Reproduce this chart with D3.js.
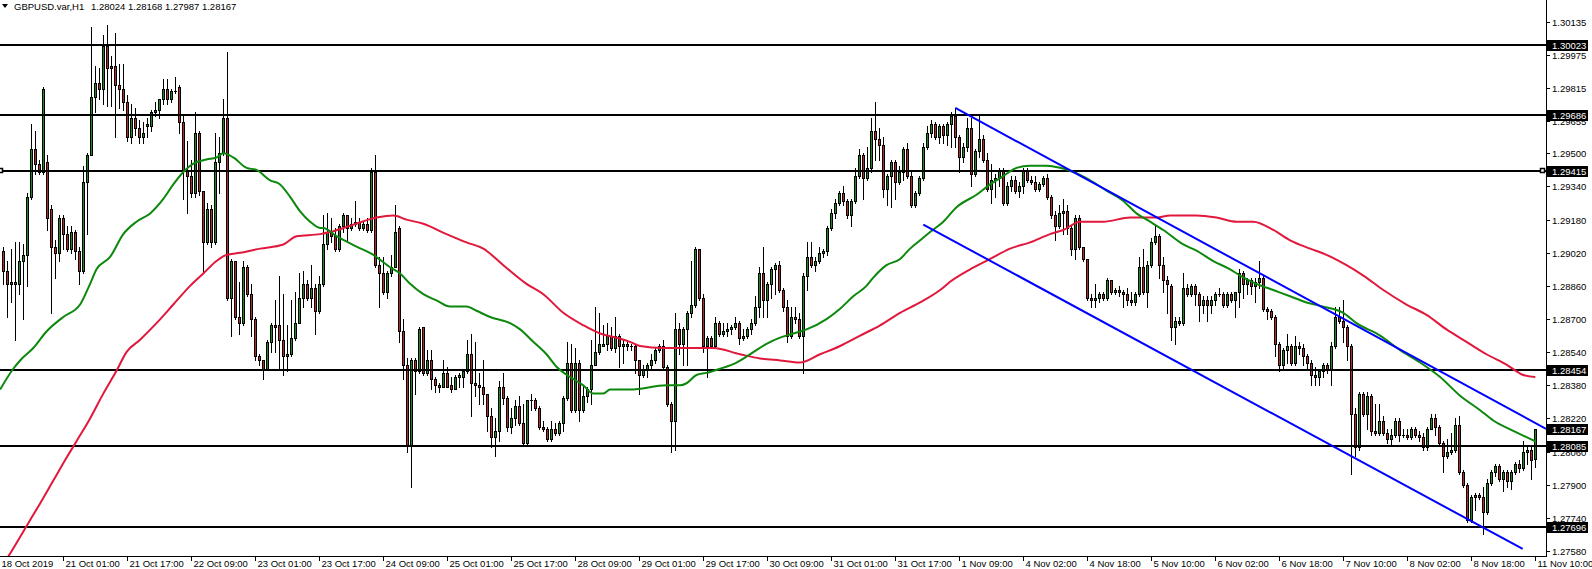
<!DOCTYPE html>
<html><head><meta charset="utf-8">
<script src="https://cdn.jsdelivr.net/npm/d3@7/dist/d3.min.js"></script>
<style>
html,body{margin:0;padding:0;background:#fff;overflow:hidden;}
svg{display:block;font-family:"Liberation Sans",Arial,sans-serif;}
</style></head><body>
<svg id="chart" width="1592" height="569"></svg>
<script>
// ---------------- DATA ----------------
const title = "GBPUSD.var,H1";
const titleValues = "1.28024 1.28168 1.27987 1.28167";

const opens = [
1.2903,1.2893,1.2887,1.2888,1.2887,1.2898,1.2901,1.2929,1.2952,1.2945,1.2941,1.2946,1.2923,1.2905,1.2902,1.2919,1.2911,1.2904,1.2912,1.2903,
1.2893,1.2936,1.2949,1.2977,1.2984,1.2981,1.3002,1.2992,1.2992,1.2983,1.2981,1.2975,1.2958,1.2967,1.2962,1.2958,1.2963,1.2963,1.2970,1.2971,
1.2976,1.2981,1.2976,1.2980,1.2982,1.2965,1.2942,1.2939,1.2931,1.2960,1.2932,1.2907,1.2923,1.2907,1.2946,1.2950,1.2967,1.2880,1.2898,1.2871,
1.2868,1.2895,1.2882,1.2870,1.2852,1.2850,1.2846,1.2859,1.2867,1.2867,1.2860,1.2852,1.2853,1.2861,1.2868,1.2880,1.2887,1.2880,1.2885,1.2874,
1.2887,1.2906,1.2912,1.2910,1.2904,1.2915,1.2920,1.2914,1.2916,1.2917,1.2914,1.2916,1.2913,1.2941,1.2896,1.2892,1.2883,1.2892,1.2895,1.2914,
1.2864,1.2848,1.2809,1.2850,1.2845,1.2866,1.2844,1.2850,1.2841,1.2838,1.2837,1.2844,1.2838,1.2836,1.2842,1.2842,1.2845,1.2853,1.2839,1.2838,
1.2837,1.2834,1.2823,1.2813,1.2816,1.2837,1.2832,1.2818,1.2822,1.2828,1.2820,1.2810,1.2831,1.2831,1.2827,1.2818,1.2817,1.2812,1.2817,1.2815,
1.2820,1.2832,1.2849,1.2826,1.2849,1.2826,1.2833,1.2836,1.2848,1.2854,1.2857,1.2858,1.2862,1.2856,1.2862,1.2857,1.2857,1.2857,1.2857,1.2850,
1.2843,1.2846,1.2848,1.2850,1.2855,1.2857,1.2847,1.2829,1.2821,1.2865,1.2858,1.2865,1.2873,1.2877,1.2904,1.2880,1.2857,1.2861,1.2857,1.2868,
1.2863,1.2864,1.2865,1.2866,1.2868,1.2861,1.2862,1.2865,1.2868,1.2876,1.2892,1.2879,1.2887,1.2894,1.2896,1.2884,1.2876,1.2862,1.2871,1.2870,
1.2862,1.2891,1.2900,1.2896,1.2898,1.2902,1.2903,1.2914,1.2921,1.2926,1.2931,1.2927,1.2920,1.2927,1.2939,1.2949,1.2938,1.2943,1.2961,1.2957,
1.2954,1.2933,1.2939,1.2946,1.2936,1.2941,1.2952,1.2939,1.2925,1.2931,1.2938,1.2953,1.2960,1.2964,1.2958,1.2963,1.2959,1.2964,1.2968,1.2958,
1.2948,1.2953,1.2962,1.2940,1.2951,1.2957,1.2947,1.2933,1.2937,1.2938,1.2942,1.2926,1.2934,1.2937,1.2932,1.2934,1.2942,1.2937,1.2936,1.2933,
1.2935,1.2938,1.2929,1.2920,1.2915,1.2921,1.2922,1.2914,1.2904,1.2919,1.2905,1.2899,1.2880,1.2879,1.2880,1.2882,1.2880,1.2889,1.2883,1.2884,
1.2883,1.2882,1.2879,1.2878,1.2882,1.2895,1.2883,1.2896,1.2907,1.2910,1.2896,1.2889,1.2886,1.2866,1.2869,1.2868,1.2885,1.2882,1.2886,1.2882,
1.2877,1.2879,1.2877,1.2879,1.2882,1.2882,1.2877,1.2882,1.2879,1.2883,1.2892,1.2887,1.2889,1.2886,1.2888,1.2890,1.2875,1.2874,1.2871,1.2858,
1.2848,1.2855,1.2857,1.2849,1.2857,1.2856,1.2852,1.2849,1.2843,1.2842,1.2845,1.2848,1.2846,1.2857,1.2871,1.2869,1.2866,1.2857,1.2824,1.2808,
1.2834,1.2824,1.2833,1.2816,1.2815,1.2821,1.2815,1.2812,1.2814,1.2821,1.2814,1.2814,1.2813,1.2817,1.2814,1.2813,1.2808,1.2817,1.2822,1.2818,
1.2810,1.2804,1.2806,1.2807,1.2819,1.2796,1.2790,1.2773,1.2784,1.2785,1.2784,1.2777,1.2791,1.2796,1.2799,1.2793,1.2796,1.2792,1.2796,1.2800,
1.2798,1.2806,1.2807,1.28024];

const highs = [
1.2905,1.2898,1.2904,1.2907,1.2907,1.2906,1.2931,1.2964,1.2961,1.2947,1.2982,1.2949,1.2925,1.2908,1.2920,1.2920,1.2915,1.2915,1.2913,1.2905,
1.2944,1.2950,1.3011,1.2992,1.2991,1.3007,1.3012,1.2997,1.3008,1.2993,1.2993,1.2978,1.2974,1.2972,1.2966,1.2965,1.2967,1.2971,1.2975,1.2976,
1.2986,1.2986,1.2981,1.2987,1.2983,1.2969,1.2956,1.2947,1.2970,1.2961,1.2932,1.2926,1.2925,1.2960,1.2958,1.2976,1.2999,1.2899,1.2898,1.2888,
1.2898,1.2896,1.2887,1.2871,1.2853,1.2850,1.2860,1.2868,1.2879,1.2891,1.2882,1.2867,1.2879,1.2883,1.2892,1.2893,1.2889,1.2896,1.2887,1.2891,
1.2920,1.2921,1.2919,1.2914,1.2916,1.2921,1.2920,1.2919,1.2927,1.2919,1.2917,1.2919,1.2943,1.2949,1.2900,1.2900,1.2893,1.2901,1.2925,1.2915,
1.2870,1.2851,1.2851,1.2851,1.2866,1.2866,1.2855,1.2855,1.2842,1.2839,1.2850,1.2847,1.2842,1.2843,1.2844,1.2846,1.2860,1.2863,1.2859,1.2844,
1.2850,1.2834,1.2827,1.2822,1.2840,1.2844,1.2833,1.2827,1.2831,1.2833,1.2829,1.2831,1.2834,1.2832,1.2828,1.2821,1.2818,1.2821,1.2820,1.2821,
1.2833,1.2859,1.2858,1.2856,1.2850,1.2838,1.2837,1.2860,1.2876,1.2873,1.2867,1.2868,1.2866,1.2871,1.2863,1.2860,1.2859,1.2858,1.2858,1.2850,
1.2848,1.2849,1.2853,1.2856,1.2858,1.2860,1.2848,1.2830,1.2873,1.2868,1.2866,1.2874,1.2898,1.2905,1.2904,1.2882,1.2862,1.2862,1.2871,1.2869,
1.2868,1.2868,1.2867,1.2871,1.2869,1.2865,1.2866,1.2870,1.2881,1.2895,1.2905,1.2888,1.2895,1.2897,1.2898,1.2885,1.2879,1.2876,1.2876,1.2873,
1.2892,1.2907,1.2907,1.2900,1.2905,1.2904,1.2915,1.2923,1.2928,1.2932,1.2934,1.2928,1.2928,1.2943,1.2952,1.2950,1.2953,1.2967,1.2975,1.2962,
1.2958,1.2940,1.2947,1.2947,1.2944,1.2953,1.2955,1.2941,1.2932,1.2939,1.2955,1.2963,1.2966,1.2965,1.2964,1.2964,1.2965,1.2970,1.2972,1.2959,
1.2955,1.2967,1.2967,1.2952,1.2969,1.2959,1.2950,1.2945,1.2940,1.2943,1.2943,1.2936,1.2939,1.2939,1.2936,1.2943,1.2943,1.2939,1.2939,1.2936,
1.2939,1.2940,1.2930,1.2922,1.2925,1.2928,1.2925,1.2915,1.2920,1.2920,1.2905,1.2899,1.2882,1.2887,1.2883,1.2883,1.2890,1.2889,1.2885,1.2886,
1.2884,1.2885,1.2883,1.2883,1.2900,1.2904,1.2898,1.2909,1.2915,1.2911,1.2900,1.2891,1.2887,1.2871,1.2871,1.2892,1.2887,1.2887,1.2887,1.2883,
1.2881,1.2881,1.2881,1.2883,1.2885,1.2883,1.2883,1.2883,1.2883,1.2894,1.2893,1.2890,1.2890,1.2890,1.2898,1.2891,1.2876,1.2875,1.2872,1.2859,
1.2856,1.2863,1.2858,1.2862,1.2859,1.2858,1.2853,1.2850,1.2847,1.2846,1.2849,1.2849,1.2859,1.2876,1.2876,1.2879,1.2867,1.2858,1.2827,1.2835,
1.2835,1.2835,1.2834,1.2829,1.2829,1.2823,1.2817,1.2817,1.2822,1.2822,1.2817,1.2817,1.2818,1.2818,1.2816,1.2815,1.2818,1.2824,1.2824,1.2819,
1.2811,1.2812,1.2815,1.2822,1.2823,1.2797,1.2791,1.2785,1.2786,1.2786,1.2789,1.2793,1.2797,1.2800,1.2800,1.2797,1.2797,1.2797,1.2801,1.2802,
1.2811,1.2808,1.2809,1.28168];

const lows = [
1.2887,1.2871,1.2878,1.2860,1.2882,1.2870,1.2886,1.2928,1.2940,1.2940,1.2940,1.2913,1.2873,1.2890,1.2898,1.2904,1.2903,1.2902,1.2899,1.2887,
1.2892,1.2911,1.2949,1.2970,1.2976,1.2974,1.2973,1.2973,1.2958,1.2972,1.2971,1.2956,1.2955,1.2959,1.2955,1.2955,1.2958,1.2961,1.2968,1.2967,
1.2974,1.2974,1.2975,1.2979,1.2960,1.2928,1.2921,1.2929,1.2929,1.2930,1.2892,1.2906,1.2905,1.2906,1.2931,1.2949,1.2879,1.2862,1.2870,1.2863,
1.2867,1.2881,1.2862,1.2850,1.2848,1.2841,1.2846,1.2854,1.2854,1.2846,1.2843,1.2845,1.2852,1.2860,1.2868,1.2876,1.2879,1.2876,1.2863,1.2873,
1.2886,1.2904,1.2907,1.2903,1.2903,1.2912,1.2908,1.2913,1.2915,1.2913,1.2913,1.2912,1.2912,1.2895,1.2876,1.2882,1.2880,1.2891,1.2895,1.2859,
1.2841,1.2806,1.2789,1.2834,1.2844,1.2843,1.2843,1.2836,1.2835,1.2835,1.2837,1.2837,1.2835,1.2836,1.2837,1.2837,1.2844,1.2823,1.2833,1.2829,
1.2829,1.2816,1.2808,1.2804,1.2811,1.2829,1.2816,1.2815,1.2819,1.2819,1.2809,1.2809,1.2826,1.2826,1.2817,1.2816,1.2811,1.2811,1.2814,1.2814,
1.2816,1.2831,1.2825,1.2825,1.2821,1.2825,1.2830,1.2829,1.2848,1.2853,1.2857,1.2855,1.2855,1.2854,1.2847,1.2849,1.2855,1.2855,1.2844,1.2834,
1.2842,1.2842,1.2846,1.2849,1.2854,1.2846,1.2828,1.2806,1.2807,1.2853,1.2848,1.2848,1.2871,1.2876,1.2879,1.2854,1.2842,1.2856,1.2856,1.2862,
1.2862,1.2862,1.2863,1.2865,1.2858,1.2860,1.2861,1.2863,1.2867,1.2871,1.2871,1.2871,1.2880,1.2882,1.2883,1.2874,1.2859,1.2861,1.2868,1.2861,
1.2844,1.2884,1.2895,1.2893,1.2897,1.2900,1.2901,1.2913,1.2919,1.2925,1.2925,1.2919,1.2915,1.2926,1.2938,1.2928,1.2937,1.2941,1.2947,1.2947,
1.2929,1.2925,1.2924,1.2928,1.2935,1.2937,1.2938,1.2924,1.2924,1.2930,1.2937,1.2952,1.2958,1.2957,1.2955,1.2955,1.2954,1.2953,1.2953,1.2941,
1.2946,1.2951,1.2934,1.2939,1.2948,1.2946,1.2932,1.2926,1.2929,1.2934,1.2925,1.2925,1.2932,1.2931,1.2929,1.2931,1.2936,1.2935,1.2932,1.2932,
1.2934,1.2928,1.2919,1.2908,1.2914,1.2911,1.2911,1.2901,1.2899,1.2904,1.2898,1.2879,1.2876,1.2876,1.2878,1.2879,1.2879,1.2882,1.2882,1.2881,
1.2876,1.2877,1.2877,1.2877,1.2881,1.2882,1.2876,1.2895,1.2906,1.2890,1.2883,1.2873,1.2860,1.2858,1.2867,1.2867,1.2881,1.2881,1.2877,1.2869,
1.2873,1.2869,1.2873,1.2877,1.2881,1.2876,1.2876,1.2878,1.2871,1.2876,1.2880,1.2882,1.2882,1.2878,1.2885,1.2874,1.2870,1.2870,1.2852,1.2845,
1.2846,1.2849,1.2848,1.2848,1.2853,1.2848,1.2846,1.2838,1.2838,1.2838,1.2842,1.2844,1.2838,1.2856,1.2868,1.2859,1.2850,1.2795,1.2804,1.2807,
1.2823,1.2817,1.2814,1.2814,1.2814,1.2814,1.2810,1.2809,1.2813,1.2811,1.2813,1.2812,1.2812,1.2813,1.2811,1.2807,1.2807,1.2817,1.2814,1.2809,
1.2796,1.2803,1.2805,1.2806,1.2795,1.2789,1.2772,1.2772,1.2778,1.2783,1.2766,1.2776,1.2790,1.2794,1.2792,1.2787,1.2789,1.2788,1.2795,1.2796,
1.2797,1.2800,1.2793,1.27987];

const closes = [
1.2893,1.2887,1.2888,1.2887,1.2898,1.2901,1.2929,1.2952,1.2945,1.2941,1.2981,1.2919,1.2905,1.2902,1.2919,1.2911,1.2904,1.2912,1.2903,1.2893,
1.2936,1.2949,1.2977,1.2984,1.2981,1.3002,1.2991,1.2991,1.2983,1.2981,1.2975,1.2958,1.2967,1.2962,1.2958,1.2960,1.2964,1.2970,1.2971,1.2976,
1.2981,1.2976,1.2980,1.2980,1.2965,1.2942,1.2939,1.2931,1.2960,1.2932,1.2907,1.2923,1.2907,1.2946,1.2950,1.2967,1.2880,1.2898,1.2871,1.2868,
1.2895,1.2882,1.2870,1.2852,1.2850,1.2846,1.2859,1.2867,1.2866,1.2860,1.2852,1.2853,1.2861,1.2868,1.2880,1.2887,1.2880,1.2885,1.2874,1.2887,
1.2906,1.2912,1.2910,1.2904,1.2915,1.2920,1.2914,1.2916,1.2917,1.2914,1.2916,1.2913,1.2941,1.2896,1.2892,1.2883,1.2892,1.2895,1.2912,1.2864,
1.2848,1.2809,1.2850,1.2845,1.2865,1.2844,1.2850,1.2841,1.2838,1.2837,1.2844,1.2837,1.2836,1.2842,1.2843,1.2845,1.2853,1.2839,1.2838,1.2837,
1.2834,1.2823,1.2813,1.2816,1.2837,1.2832,1.2818,1.2822,1.2828,1.2820,1.2810,1.2831,1.2831,1.2827,1.2818,1.2817,1.2812,1.2817,1.2815,1.2820,
1.2832,1.2849,1.2826,1.2849,1.2826,1.2833,1.2836,1.2848,1.2854,1.2858,1.2858,1.2862,1.2856,1.2862,1.2857,1.2858,1.2858,1.2857,1.2850,1.2843,
1.2846,1.2848,1.2850,1.2855,1.2857,1.2847,1.2829,1.2821,1.2865,1.2858,1.2865,1.2873,1.2877,1.2904,1.2880,1.2857,1.2861,1.2857,1.2868,1.2863,
1.2864,1.2865,1.2866,1.2868,1.2861,1.2862,1.2865,1.2868,1.2876,1.2892,1.2879,1.2887,1.2894,1.2896,1.2884,1.2876,1.2862,1.2871,1.2870,1.2862,
1.2891,1.2900,1.2896,1.2898,1.2902,1.2903,1.2914,1.2921,1.2926,1.2931,1.2927,1.2920,1.2927,1.2939,1.2949,1.2938,1.2943,1.2961,1.2957,1.2954,
1.2933,1.2939,1.2946,1.2936,1.2941,1.2952,1.2939,1.2925,1.2931,1.2938,1.2953,1.2960,1.2964,1.2958,1.2963,1.2959,1.2964,1.2968,1.2958,1.2948,
1.2953,1.2962,1.2940,1.2951,1.2957,1.2947,1.2933,1.2937,1.2938,1.2942,1.2926,1.2934,1.2937,1.2932,1.2934,1.2942,1.2937,1.2936,1.2933,1.2935,
1.2938,1.2929,1.2920,1.2915,1.2921,1.2922,1.2914,1.2904,1.2919,1.2905,1.2899,1.2880,1.2879,1.2880,1.2882,1.2880,1.2889,1.2883,1.2884,1.2883,
1.2882,1.2879,1.2878,1.2882,1.2895,1.2883,1.2896,1.2907,1.2910,1.2896,1.2889,1.2887,1.2866,1.2869,1.2868,1.2885,1.2882,1.2886,1.2882,1.2877,
1.2879,1.2877,1.2879,1.2882,1.2882,1.2877,1.2882,1.2879,1.2883,1.2892,1.2887,1.2889,1.2886,1.2888,1.2890,1.2875,1.2874,1.2871,1.2858,1.2848,
1.2855,1.2857,1.2849,1.2857,1.2856,1.2852,1.2849,1.2843,1.2842,1.2845,1.2848,1.2846,1.2857,1.2871,1.2869,1.2866,1.2857,1.2824,1.2808,1.2834,
1.2824,1.2833,1.2816,1.2815,1.2821,1.2815,1.2812,1.2814,1.2821,1.2814,1.2814,1.2813,1.2817,1.2814,1.2813,1.2808,1.2817,1.2822,1.2818,1.2810,
1.2804,1.2806,1.2807,1.2819,1.2796,1.2790,1.2773,1.2784,1.2785,1.2784,1.2777,1.2791,1.2796,1.2799,1.2793,1.2796,1.2792,1.2796,1.2800,1.2798,
1.2806,1.2807,1.2802,1.28167];

// moving averages (bar index, price)
const maGreenBars = [-0.8,2.5,4.2,7.5,10.8,15,19.2,21.7,23.3,26.7,30,33.3,36.7,40,42.5,45,47.5,50.8,53.3,55,57.5,60.8,63.3,66.7,69.2,71.7,74.2,76.7,79.2,80,83.3,88.3,92.5,96.7,99.2,101.7,105,108.3,111.7,115.8,118.3,121.7,126.7,129.2,132.5,135.8,138.3,141.7,145,147.5,150,151.7,156.7,165.8,169.2,170.8,173.3,175.8,179.2,183.3,187.5,190.8,194.2,197.5,200.8,205.8,209.2,212.5,215.8,217.5,220.8,224.2,226.7,229.2,231.7,235,238.3,243.3,246.7,250,253.3,256.7,260.8,264.2,267.5,271.7,275.8,280,283.3,286.7,290,295,298.3,302.5,306.7,309.2,313.3,317.5,321.7,325.8,330,335,338.3,344.2,349.2,354.2,359.2,364.2,369.2,372.5,377.5,380.8,383];
const maGreenVals = [1.2836,1.2846,1.2850,1.2856,1.2864,1.2871,1.2877,1.2887,1.2894,1.2900,1.2911,1.2917,1.2921,1.2928,1.2935,1.2941,1.2945,1.2947,1.2948,1.2950,1.2948,1.2943,1.2942,1.2937,1.2935,1.2929,1.2922,1.2917,1.2914,1.2914,1.2910,1.2905,1.2901,1.2895,1.2892,1.2887,1.2882,1.2879,1.2876,1.2876,1.2874,1.2871,1.2868,1.2865,1.2859,1.2853,1.2847,1.2842,1.2838,1.2834,1.2834,1.2836,1.2836,1.2838,1.2838,1.2839,1.2843,1.2844,1.2846,1.2849,1.2854,1.2858,1.2861,1.2863,1.2865,1.2870,1.2875,1.2881,1.2886,1.2890,1.2896,1.2899,1.2904,1.2908,1.2912,1.2917,1.2924,1.2930,1.2935,1.2939,1.2943,1.2944,1.2944,1.2943,1.2941,1.2937,1.2932,1.2927,1.2921,1.2917,1.2913,1.2906,1.2903,1.2898,1.2894,1.2891,1.2887,1.2884,1.2881,1.2878,1.2876,1.2873,1.2868,1.2862,1.2855,1.2849,1.2842,1.2833,1.2826,1.2821,1.2816,1.2813,1.2811];
const maRedBars = [0.8,2.1,5.8,9.2,12.5,15.8,18.3,21.7,25,28.3,30.8,34.2,38.3,42.5,46.7,50,53.3,55.8,59.2,64.2,70,73.3,79.2,81.7,86.7,93.3,97.5,100.8,105,110.8,115.8,120,125,130.8,135,140,145,149.2,153.3,156.7,159.2,165,170.8,177.5,184.2,189.2,194.2,199.2,204.2,209.2,214.2,219.2,224.2,229.2,234.2,236.7,241.7,246.7,251.7,256.7,261.7,265,269.2,275,281.7,288.3,291.7,298.3,303.3,308.3,312.5,317.5,321.7,326.7,330.8,335.8,340,345,350.8,355.8,360.8,365.8,370.8,375.8,380,383];
const maRedVals = [1.2754,1.2758,1.2770,1.2781,1.2792,1.2803,1.2811,1.2822,1.2834,1.2845,1.2854,1.2860,1.2868,1.2877,1.2886,1.2892,1.2898,1.2901,1.2902,1.2904,1.2906,1.2910,1.2911,1.2912,1.2915,1.2919,1.2920,1.2918,1.2916,1.2911,1.2907,1.2904,1.2896,1.2887,1.2882,1.2873,1.2867,1.2863,1.2861,1.2859,1.2857,1.2856,1.2856,1.2856,1.2853,1.2851,1.2850,1.2849,1.2853,1.2857,1.2862,1.2867,1.2873,1.2878,1.2884,1.2888,1.2894,1.2899,1.2904,1.2907,1.2911,1.2913,1.2917,1.2917,1.2919,1.2919,1.2920,1.2920,1.2919,1.2917,1.2917,1.2913,1.2908,1.2904,1.2901,1.2896,1.2891,1.2884,1.2877,1.2872,1.2865,1.2859,1.2853,1.2848,1.2843,1.2842];

// trend channel (bar index, price)
const channelUpper = [[238, 1.29719], [385.7, 1.28170]];
const channelLower = [[230, 1.29156], [379.85, 1.27590]];

// horizontal levels
const levels = [1.30023, 1.29686, 1.29415, 1.28454, 1.28085, 1.27696];
const markedLevel = 1.29415;
const currentPrice = 1.28167;

const yTicks = [1.30135,1.29975,1.29815,1.29655,1.29500,1.29340,1.29180,1.29020,1.28860,1.28700,1.28540,1.28380,1.28220,1.28060,1.27900,1.27740,1.27580];
const xTickLabels = ["18 Oct 2019","21 Oct 01:00","21 Oct 17:00","22 Oct 09:00","23 Oct 01:00","23 Oct 17:00","24 Oct 09:00","25 Oct 01:00","25 Oct 17:00","28 Oct 09:00","29 Oct 01:00","29 Oct 17:00","30 Oct 09:00","31 Oct 01:00","31 Oct 17:00","1 Nov 09:00","4 Nov 02:00","4 Nov 18:00","5 Nov 10:00","6 Nov 02:00","6 Nov 18:00","7 Nov 10:00","8 Nov 02:00","8 Nov 18:00","11 Nov 10:00"];
const barsPerTick = 16, firstTickBar = -1;

// ---------------- CHART ----------------
const FS = '9.5px';
const svg = d3.select('#chart');
const plotR = 1546, plotB = 556;
const x = d3.scaleLinear().domain([0, opens.length - 1]).range([3.3, 1535.3]);
const y = d3.scaleLinear().domain([1.27556, 1.302403]).range([plotB, 0]);

svg.append('rect').attr('width',1592).attr('height',569).attr('fill','#fff');
svg.append('clipPath').attr('id','pc').append('rect').attr('x',0).attr('y',0).attr('width',plotR).attr('height',plotB);
const g = svg.append('g').attr('clip-path','url(#pc)');

// candles
const bars = d3.range(opens.length).map(i => ({i, o:opens[i], h:highs[i], l:lows[i], c:closes[i]}));
const cg = g.append('g').attr('shape-rendering','crispEdges');
const candle = cg.selectAll('g.c').data(bars).join('g').attr('class','c');
candle.append('rect')
  .attr('x', d => Math.round(x(d.i)))
  .attr('y', d => Math.round(y(d.h)))
  .attr('width', 1)
  .attr('height', d => Math.max(1, Math.round(y(d.l)) - Math.round(y(d.h)) + 1))
  .attr('fill', '#000');
candle.append('rect')
  .attr('x', d => Math.round(x(d.i)) - 1)
  .attr('y', d => Math.min(Math.round(y(d.o)), Math.round(y(d.c))))
  .attr('width', 3)
  .attr('height', d => Math.abs(Math.round(y(d.o)) - Math.round(y(d.c))) + 1)
  .attr('fill', '#000');
candle.filter(d => Math.abs(Math.round(y(d.o)) - Math.round(y(d.c))) >= 2).append('rect')
  .attr('x', d => Math.round(x(d.i)))
  .attr('y', d => Math.min(Math.round(y(d.o)), Math.round(y(d.c))) + 1)
  .attr('width', 1)
  .attr('height', d => Math.abs(Math.round(y(d.o)) - Math.round(y(d.c))) - 1)
  .attr('fill', d => d.c >= d.o ? '#1a8a1a' : '#b22a2a');

// horizontal levels
g.append('g').attr('shape-rendering','crispEdges').selectAll('rect').data(levels).join('rect')
  .attr('x', 0).attr('y', d => Math.round(y(d)) - 1).attr('width', plotR).attr('height', 2).attr('fill', '#000');

// moving averages
const maLine = d3.line().x(d => x(d[0])).y(d => y(d[1])).curve(d3.curveMonotoneX);
g.append('path').datum(maRedBars.map((b,k) => [b, maRedVals[k]]))
  .attr('d', maLine).attr('fill','none').attr('stroke','#e0183c').attr('stroke-width',2);
g.append('path').datum(maGreenBars.map((b,k) => [b, maGreenVals[k]]))
  .attr('d', maLine).attr('fill','none').attr('stroke','#0c880c').attr('stroke-width',2);

// channel
const lin = d3.line().x(d => x(d[0])).y(d => y(d[1]));
[channelUpper, channelLower].forEach(c => {
  g.append('path').datum(c).attr('d', lin).attr('fill','none').attr('stroke','#0000ff').attr('stroke-width',2);
});

// level marker squares
const my = Math.round(y(markedLevel));
[[-2, my-2],[plotR-6, my-2]].forEach(p => {
  svg.append('rect').attr('x', p[0]+0.5).attr('y', p[1]-0.5).attr('width',4).attr('height',4)
    .attr('fill','#fff').attr('stroke','#000').attr('stroke-width',1.5);
});

// axes frame
svg.append('line').attr('x1', plotR+0.5).attr('x2', plotR+0.5).attr('y1', 0).attr('y2', plotB+1).attr('stroke','#000');
svg.append('line').attr('x1', 0).attr('x2', plotR+1).attr('y1', plotB+0.5).attr('y2', plotB+0.5).attr('stroke','#000');

// y ticks
const yt = svg.append('g').attr('font-size',FS).attr('fill','#000');
yTicks.forEach(t => {
  const yy = Math.round(y(t)) + 0.5;
  yt.append('line').attr('x1', plotR).attr('x2', plotR+4).attr('y1', yy).attr('y2', yy).attr('stroke','#000');
  yt.append('text').attr('x', plotR+6).attr('y', yy+3.6).text(t.toFixed(5));
});

// price boxes
const boxes = svg.append('g').attr('font-size',FS);
levels.concat([currentPrice]).forEach(v => {
  const yy = Math.round(y(v));
  boxes.append('rect').attr('x', plotR+1).attr('y', yy-5).attr('width', 41).attr('height', 11).attr('fill','#000');
  boxes.append('text').attr('x', plotR+6).attr('y', yy+4).attr('fill','#fff').text(v.toFixed(5));
});

// x ticks
const xt = svg.append('g').attr('font-size',FS).attr('fill','#000');
xTickLabels.forEach((lab, k) => {
  const xx = Math.round(x(firstTickBar + k*barsPerTick)) + 0.5;
  xt.append('line').attr('x1', xx).attr('x2', xx).attr('y1', plotB).attr('y2', plotB+5).attr('stroke','#000');
  xt.append('text').attr('x', xx+2).attr('y', 566.5).text(lab);
});

// title
svg.append('path').attr('d','M2,4 L8,4 L5,8 Z').attr('fill','#000');
svg.append('text').attr('x',14).attr('y',10).attr('font-size',FS).text(title);
svg.append('text').attr('x',91).attr('y',10).attr('font-size',FS).text(titleValues);
</script>
</body></html>
